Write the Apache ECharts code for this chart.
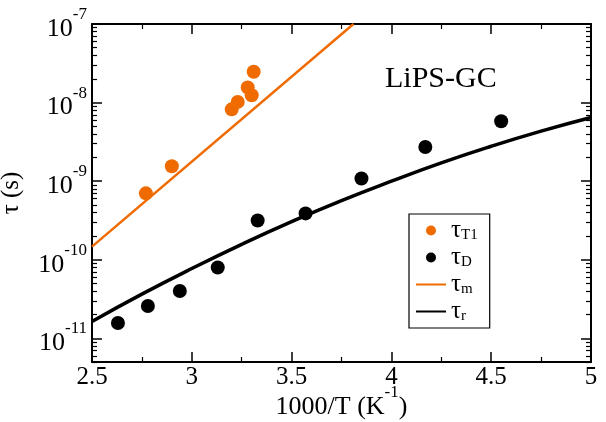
<!DOCTYPE html>
<html>
<head>
<meta charset="utf-8">
<script src="https://cdn.jsdelivr.net/npm/echarts@6/dist/echarts.min.js"></script>
<style>
    html, body { margin: 0; padding: 0; background: #fff; }
    #main { width: 606px; height: 422px; }
</style>
</head>
<body>
<div id="main"></div>
<script>
// tau_T1 (orange dots)
var t1X = [2.77, 2.90, 3.20, 3.23, 3.28, 3.30, 3.31];
var t1Y = [7.0e-10, 1.55e-9, 8.2e-9, 1.02e-8, 1.56e-8, 1.24e-8, 2.47e-8];
// tau_D (black dots)
var dX = [2.63, 2.78, 2.94, 3.13, 3.33, 3.57, 3.85, 4.17, 4.55];
var dY = [1.57e-11, 2.58e-11, 4.0e-11, 7.96e-11, 3.16e-10, 3.89e-10, 1.08e-9, 2.72e-9, 5.79e-9];
// tau_m (orange line)
var mX = [2.5, 3.81];
var mY = [1.47e-10, 1.0e-7];
// tau_r (black curve)
var rX = [2.5, 2.75, 3.0, 3.25, 3.5, 3.75, 4.0, 4.25, 4.5, 4.75, 5.0];
var rY = [1.64e-11, 3.65e-11, 7.73e-11, 1.57e-10, 3.05e-10, 5.66e-10, 1.00e-9, 1.71e-9, 2.78e-9, 4.33e-9, 6.46e-9];
// axis ticks
var yDecades = [-11, -10, -9, -8, -7];
var yMin = Math.log10(5e-12), yMax = -7;

var orange = '#ef6b00';
var serif = 'Liberation Serif';

// minor ticks of the log axis (2..9 x 10^n)
var yMinor = [];
for (var n = -12; n <= -8; n++) {
    for (var k = 2; k <= 9; k++) {
        var v = Math.log10(k) + n;
        if (v >= yMin && v <= yMax) yMinor.push(v);
    }
}

var pts = function (xs, ys) {
    return xs.map(function (x, i) { return [x, Math.log10(ys[i])]; });
};

var supRich = {
    b: { fontFamily: serif, fontSize: 26, lineHeight: 26, color: '#000', verticalAlign: 'bottom' },
    s: { fontFamily: serif, fontSize: 17, lineHeight: 17, color: '#000', verticalAlign: 'top' },
    e: { lineHeight: 36, fontSize: 1 }
};

var yAxisBase = function (pos, major, withLabel) {
    return {
        type: 'value',
        position: pos,
        min: yMin,
        max: yMax,
        axisLine: { show: major, onZero: false, lineStyle: { color: '#000', width: 2 } },
        axisTick: {
            show: true,
            inside: true,
            length: major ? 10 : 5,
            customValues: major ? yDecades : yMinor,
            lineStyle: { color: '#000', width: major ? 1.5 : 1.2 }
        },
        axisLabel: {
            show: withLabel,
            customValues: yDecades,
            margin: 5,
            formatter: function (v) {
                return '{e|}{b|10}{s|' + Math.round(v) + '}';
            },
            rich: supRich
        },
        splitLine: { show: false }
    };
};

var myChart = echarts.init(document.getElementById('main'));
var option = {
    backgroundColor: '#fff',
    animation: false,
    title: {
        text: 'LiPS-GC',
        left: 385,
        top: 64,
        padding: 0,
        textStyle: { fontFamily: serif, fontSize: 30, fontWeight: 'normal', color: '#000' }
    },
    legend: {
        orient: 'vertical',
        left: 409,
        top: 214,
        padding: [4, 12, 4, 6],
        itemGap: 2,
        itemWidth: 30,
        itemHeight: 10,
        borderColor: '#000',
        borderWidth: 1.2,
        borderRadius: 0,
        data: [
            { name: 'T1', icon: 'circle' },
            { name: 'D', icon: 'circle' },
            { name: 'm', itemStyle: { opacity: 0 } },
            { name: 'r', itemStyle: { opacity: 0 } }
        ],
        formatter: function (name) {
            return '{t|τ}{s|' + name + '}';
        },
        textStyle: {
            rich: {
                t: { fontFamily: serif, fontSize: 25, lineHeight: 24, color: '#000' },
                s: { fontFamily: serif, fontSize: 15, lineHeight: 15, color: '#000', verticalAlign: 'bottom' }
            }
        }
    },
    grid: { left: 92, top: 24, right: 15, bottom: 60, containLabel: false, outerBoundsMode: 'none' },
    xAxis: [
        {
            type: 'value',
            position: 'bottom',
            min: 2.5,
            max: 5,
            interval: 0.5,
            name: '{e|}{b|1000/T (K}{s|-1}{b|)}',
            nameLocation: 'middle',
            nameGap: 22,
            nameMoveOverlap: false,
            nameTextStyle: { rich: supRich },
            axisLine: { onZero: false, lineStyle: { color: '#000', width: 2 } },
            axisTick: { inside: true, length: 10, lineStyle: { color: '#000', width: 1.5 } },
            minorTick: { show: true, splitNumber: 2, length: 5, lineStyle: { color: '#000', width: 1.2 } },
            axisLabel: { margin: 3, color: '#000', fontFamily: serif, fontSize: 25 },
            splitLine: { show: false }
        },
        {
            type: 'value',
            position: 'top',
            min: 2.5,
            max: 5,
            interval: 0.5,
            axisLine: { onZero: false, lineStyle: { color: '#000', width: 2 } },
            axisTick: { inside: true, length: 10, lineStyle: { color: '#000', width: 1.5 } },
            minorTick: { show: true, splitNumber: 2, length: 5, lineStyle: { color: '#000', width: 1.2 } },
            axisLabel: { show: false },
            splitLine: { show: false }
        }
    ],
    yAxis: [
        Object.assign(yAxisBase('left', true, true), {
            name: 'τ (s)',
            nameLocation: 'middle',
            nameGap: 68,
            nameMoveOverlap: false,
            nameTextStyle: { fontFamily: serif, fontSize: 25, color: '#000' }
        }),
        yAxisBase('left', false, false),
        yAxisBase('right', true, false),
        yAxisBase('right', false, false)
    ],
    series: [
        {
            name: 'm',
            type: 'line',
            data: pts(mX, mY),
            symbol: 'none',
            color: orange,
            lineStyle: { color: orange, width: 2.5 }
        },
        {
            name: 'r',
            type: 'line',
            data: pts(rX, rY),
            smooth: true,
            symbol: 'none',
            color: '#000',
            lineStyle: { color: '#000', width: 3.5 }
        },
        {
            name: 'T1',
            type: 'scatter',
            data: pts(t1X, t1Y),
            symbolSize: 14,
            itemStyle: { color: orange, opacity: 1 }
        },
        {
            name: 'D',
            type: 'scatter',
            data: pts(dX, dY),
            symbolSize: 14,
            itemStyle: { color: '#000', opacity: 1 }
        }
    ]
};
myChart.setOption(option);
</script>
</body>
</html>
